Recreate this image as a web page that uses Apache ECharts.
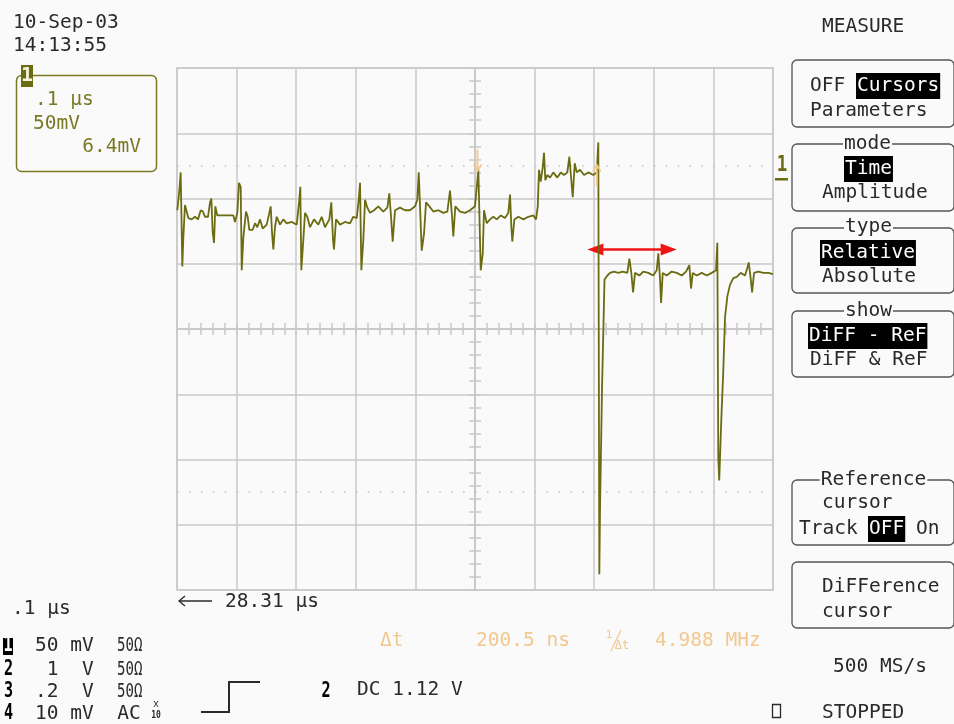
<!DOCTYPE html>
<html><head><meta charset="utf-8">
<script src="https://cdn.jsdelivr.net/npm/echarts@6.0.0/dist/echarts.min.js"></script>
<style>html,body{margin:0;padding:0;background:#fafafa;}#c{width:954px;height:724px;}</style>
</head><body><div id="c"></div>
<script>
// ---- data (time in ns relative to screen centre, amplitude in mV) ----
const traceTimeNs = [-499.5,-496.1,-493.8,-492.1,-491.1,-489.4,-486.6,-483.7,-481,-475.3,
-469.8,-464.8,-460.2,-456.4,-453,-448,-444.6,-442.4,-440.1,-437.9,
-435.7,-432.4,-427.8,-419.5,-405.5,-402.7,-398.8,-396,-393.1,-391.4,
-388.7,-384.2,-381.4,-378.7,-373,-369.1,-365.3,-360.7,-356.2,-349.5,
-345.1,-342.8,-340.6,-338.4,-335.6,-332.7,-327.2,-321.6,-315.9,-307.5,
-299.1,-294.8,-293.1,-291.4,-288.1,-285.2,-281.4,-276.8,-270.1,-262.9,
-257.2,-251.7,-244.4,-241.1,-238.2,-236.6,-233.2,-226.5,-218.1,-209.7,
-204.2,-198.5,-195.1,-192.9,-190.7,-187.4,-184.5,-180.7,-176.1,-169.4,
-162.2,-153.8,-147.1,-143.8,-140.9,-138.1,-134.2,-125.8,-117.4,-109,
-100.6,-96.8,-94.4,-91.4,-89.4,-85.5,-82.2,-76.6,-69.9,-61.5,
-53.2,-46.4,-41.9,-38.5,-36.4,-33,-25.1,-16.7,-8.3,0,
2.9,5.6,8.4,9.6,13,15.1,19.7,25.2,30.8,36.5,
43.2,50.4,55.9,58.8,61,62.6,66,72.7,81.1,89.5,
97.9,102.4,105.3,107.4,110.3,113.6,115.8,118,121.4,125.9,
131.4,138.1,143.9,149.4,154.9,158.3,161.6,164,167.3,170.7,
176.2,182.9,190.2,198.5,204.3,206.9,207.7,208.6,209.8,212.3,
213.2,215.7,217.3,222.1,226.6,233.3,240.5,247.9,255.6,259,
262.3,265.2,268.5,275.7,282.4,290.8,299.2,304.9,307.6,310.5,
312.2,315,321.7,330.1,338.5,346.9,354.1,359.6,362.5,365.3,
372,380.4,388.8,397.2,404.4,406.6,408.2,409.8,411.5,413.2,
416.5,419.5,423.4,427.9,433.5,439.2,445.9,453.1,457,459.3,
462.7,464.9,468.2,475.5,483.8,492.2,500];
const traceMv = [91,106,120,120,48,70,95,94,85,84,
86,84,91,90,86,86,97,100,74,66,
94,87,87,87,87,82,89,112,109,45,
70,90,86,76,76,81,78,84,77,80,
89,94,74,61,78,86,80,84,81,82,
80,99,109,45,68,89,86,78,84,80,
86,78,84,97,68,61,84,80,82,81,
86,85,99,112,45,68,99,93,89,91,
94,90,93,104,86,67,91,93,91,91,
94,99,120,120,60,73,97,94,90,91,
89,90,106,86,71,94,90,89,91,94,
94,122,122,45,58,91,81,84,86,84,
87,85,89,103,78,67,84,86,84,86,
87,84,94,122,113,124,135,114,118,116,
120,116,120,118,120,132,114,101,127,120,
122,118,120,118,120,143,143,-188,-137,-137,
-44,-44,38,41,43,44,43,44,43,54,
43,28,43,41,44,43,41,45,58,38,
20,43,41,44,43,41,44,49,31,43,
41,43,41,43,45,66,-99,-116,-116,-70,
-33,9,25,34,39,40,43,41,47,51,
38,28,43,44,43,43,42];
const cursorTimesNs = [4.2, 204.3];         // reference / difference cursor
const cursorLevelsMv = [120, 127];
const deltaArrowNs = [202, 325];            // red Δt annotation
const deltaArrowMv = [61, 61];
const dotLevelsMv = [125, -125];
const timeRangeNs = [-500, 500];
const ampRangeMv = [-200, 200];

// ---- styles ----
const BG = '#fafafa', GRID = '#c9c9c9', TRACE = '#6b6b12', OLIVE = '#7a7a26',
      BLACK = '#2a2a2a', ORANGE = '#f2c88e', RED = '#f01414';
const FONT = '"DejaVu Sans Mono","Liberation Mono",monospace';

function T(x, y, text, o) {
  o = o || {};
  const st = {
    text: text,
    font: (o.bold ? 'bold ' : '') + (o.size || 19.5) + 'px ' + FONT,
    fill: o.color || BLACK,
    align: o.align || 'left', textAlign: o.align || 'left',
    verticalAlign: 'middle', textVerticalAlign: 'middle'
  };
  if (o.bg) { st.backgroundColor = o.bg; st.padding = o.pad || [0, 0]; }
  return { type: 'text', x: x, y: y, scaleX: o.sx || 1, silent: true, z: o.z || 20, style: st };
}
function R(x, y, w, h, o) {
  return { type: 'rect', silent: true, z: o.z || 10,
    shape: { x: x, y: y, width: w, height: h, r: o.r || 0 },
    style: { fill: o.fill || 'none', stroke: o.stroke || null, lineWidth: o.lw || 1 } };
}
function P(points, o) {
  return { type: 'polyline', silent: true, z: 15, shape: { points: points },
    style: { stroke: o.stroke || BLACK, lineWidth: o.lw || 1.5, fill: 'none' } };
}

const g = [];
// date/time
g.push(T(13, 23, '10-Sep-03'));
g.push(T(13, 46, '14:13:55'));
// channel 1 box
g.push(R(16.5, 75.5, 140, 96, { stroke: OLIVE, lw: 1.5, r: 5 }));
g.push(R(21, 65, 12, 22, { fill: TRACE, z: 12 }));
g.push(T(27, 76, '1', { bold: true, size: 20, color: '#f4f4dc', align: 'center' }));
g.push(T(35, 100, '.1 µs', { color: OLIVE }));
g.push(T(33, 124, '50mV', { color: OLIVE }));
g.push(T(141, 147, '6.4mV', { color: OLIVE, align: 'right' }));

// right menu
g.push(T(822, 27, 'MEASURE'));
function box(y, h) { g.push(R(792, y, 162, h, { stroke: '#555', lw: 1.3, r: 5 })); }
function title(cx, y, t) { g.push(T(cx, y, t, { align: 'center', bg: BG, pad: [0, 1, 0, 1] })); }
function hi(x, y, t) { g.push(T(x, y, t, { color: '#ffffff', bg: '#000000', pad: [3, 1, 3, 1] })); }
box(60, 67);
g.push(T(810, 86, 'OFF')); hi(856, 86, 'Cursors'); g.push(T(810, 111, 'Parameters'));
box(144, 67); title(867.5, 144, 'mode');
hi(844, 169, 'Time'); g.push(T(822, 193, 'Amplitude'));
box(228, 65); title(868.5, 227, 'type');
hi(820, 253, 'Relative'); g.push(T(822, 277, 'Absolute'));
box(311, 66); title(868.5, 311, 'show');
hi(808, 336, 'DiFF - ReF'); g.push(T(810, 360, 'DiFF & ReF'));
box(480, 65); title(873.5, 480, 'Reference');
g.push(T(822, 503, 'cursor'));
g.push(T(799, 529, 'Track')); hi(868, 529, 'OFF'); g.push(T(916, 529, 'On'));
box(562, 66);
g.push(T(822, 587, 'DiFFerence')); g.push(T(822, 612, 'cursor'));
g.push(T(833, 667, '500 MS/s'));
g.push(R(772.5, 704.5, 8, 13, { stroke: BLACK, lw: 1.3 }));
g.push(T(822, 713, 'STOPPED'));
// channel marker on the right of the grid
g.push(T(782, 165, '1', { bold: true, size: 22, color: TRACE, align: 'center', sx: 0.8 }));
g.push(R(775, 178, 13, 2.5, { fill: TRACE }));

// bottom-left
g.push(T(12, 609, '.1 µs'));
g.push(P([[179, 601], [212, 601]], { lw: 1.3 }));
g.push(P([[185, 596], [179, 601], [185, 606]], { lw: 1.3 }));
g.push(T(225, 602, '28.31 µs'));
const rows = [646, 670, 692, 714];
g.push(R(3, 638, 10, 17, { fill: '#000', z: 18 }));
g.push(T(8, rows[0], '1', { bold: true, size: 21, color: '#fff', align: 'center', sx: 0.72 }));
g.push(T(8.5, rows[1], '2', { bold: true, size: 21, align: 'center', sx: 0.72, color: '#000' }));
g.push(T(8.5, rows[2], '3', { bold: true, size: 21, align: 'center', sx: 0.72, color: '#000' }));
g.push(T(8.5, rows[3], '4', { bold: true, size: 21, align: 'center', sx: 0.72, color: '#000' }));
g.push(T(35, rows[0], '50 mV'));
g.push(T(35, rows[1], ' 1  V'));
g.push(T(35, rows[2], '.2  V'));
g.push(T(35, rows[3], '10 mV  AC'));
for (let i = 0; i < 3; i++) g.push(T(117, rows[i], '50Ω', { sx: 0.72 }));
g.push(T(156, 704, 'x', { size: 10, align: 'center' }));
g.push(T(156, 715, '10', { size: 10, bold: true, align: 'center', sx: 0.8 }));
// trigger step icon
g.push(P([[201, 712], [229, 712], [229, 682], [260, 682]], { lw: 2 }));
g.push(T(326, 692, '2', { bold: true, size: 21, align: 'center', sx: 0.72, color: '#000' }));
g.push(T(357, 690, 'DC 1.12 V'));
// orange cursor readout
g.push(T(380, 641, 'Δt', { color: ORANGE }));
g.push(T(476, 641, '200.5 ns', { color: ORANGE }));
g.push(T(609, 635, '1', { color: ORANGE, size: 11, align: 'center' }));
g.push(P([[611, 651], [621, 630]], { stroke: ORANGE, lw: 1.2 }));
g.push(T(622, 646, 'Δt', { color: ORANGE, size: 12, align: 'center' }));
g.push(T(655, 641, '4.988 MHz', { color: ORANGE }));

// ---- chart ----
const chart = echarts.init(document.getElementById('c'), null, { renderer: 'canvas' });
const lineSt = { color: GRID, width: 1.5 };
function xAx(pos, split) {
  return { type: 'value', position: pos, min: timeRangeNs[0], max: timeRangeNs[1], interval: 100,
    axisLine: { show: true, onZero: true, lineStyle: lineSt },
    axisTick: { show: true, length: 6, lineStyle: lineSt },
    minorTick: { show: true, splitNumber: 5, length: 6, lineStyle: lineSt },
    axisLabel: { show: false }, splitLine: { show: split, lineStyle: lineSt },
    axisPointer: { show: false } };
}
function yAx(pos, split) {
  return { type: 'value', position: pos, min: ampRangeMv[0], max: ampRangeMv[1], interval: 50,
    axisLine: { show: true, onZero: true, lineStyle: lineSt },
    axisTick: { show: true, length: 6, lineStyle: lineSt },
    minorTick: { show: true, splitNumber: 5, length: 6, lineStyle: lineSt },
    axisLabel: { show: false }, splitLine: { show: split, lineStyle: lineSt },
    axisPointer: { show: false } };
}
const downArrow = 'path://M4,0L6,0L6,19L9,15L10,16.5L5,24L0,16.5L1,15L4,19Z';
const upArrow = 'path://M4,24L6,24L6,5L9,9L10,7.5L5,0L0,7.5L1,9L4,5Z';

chart.setOption({
  backgroundColor: BG,
  animation: false,
  grid: { left: 177, top: 68, width: 596, height: 522, show: true,
          borderColor: GRID, borderWidth: 1.5, backgroundColor: 'transparent' },
  xAxis: [xAx('bottom', true), xAx('top', false)],
  yAxis: [yAx('left', true), yAx('right', false)],
  graphic: { elements: g },
  series: [
    { type: 'line', xAxisIndex: 0, yAxisIndex: 0, showSymbol: false, symbol: 'none', silent: true, z: 5,
      data: traceTimeNs.map((t, i) => [t, traceMv[i]]),
      lineStyle: { color: TRACE, width: 1.8 },
      markLine: { silent: true, symbol: 'none', label: { show: false },
        lineStyle: { color: '#c2c2c2', width: 1.6, type: [1.6, 10.32] },
        emphasis: { disabled: true },
        data: dotLevelsMv.map(v => ({ yAxis: v })) } },
    { type: 'scatter', xAxisIndex: 0, yAxisIndex: 0, silent: true, z: 6,
      symbolSize: [9, 23],
      itemStyle: { color: ORANGE, opacity: 1 },
      data: [
        { value: [cursorTimesNs[0], cursorLevelsMv[0]], symbol: downArrow, symbolOffset: [0, '-50%'] },
        { value: [cursorTimesNs[1], cursorLevelsMv[1]], symbol: upArrow, symbolOffset: [0, '50%'] }
      ],
      markLine: { silent: true, symbol: ['triangle', 'triangle'], symbolSize: [12, 16],
        label: { show: false }, emphasis: { disabled: true },
        lineStyle: { color: RED, width: 2.5, type: 'solid' },
        data: [[{ coord: [deltaArrowNs[0], deltaArrowMv[0]] }, { coord: [deltaArrowNs[1], deltaArrowMv[1]] }]] } }
  ]
});
</script>
</body></html>
